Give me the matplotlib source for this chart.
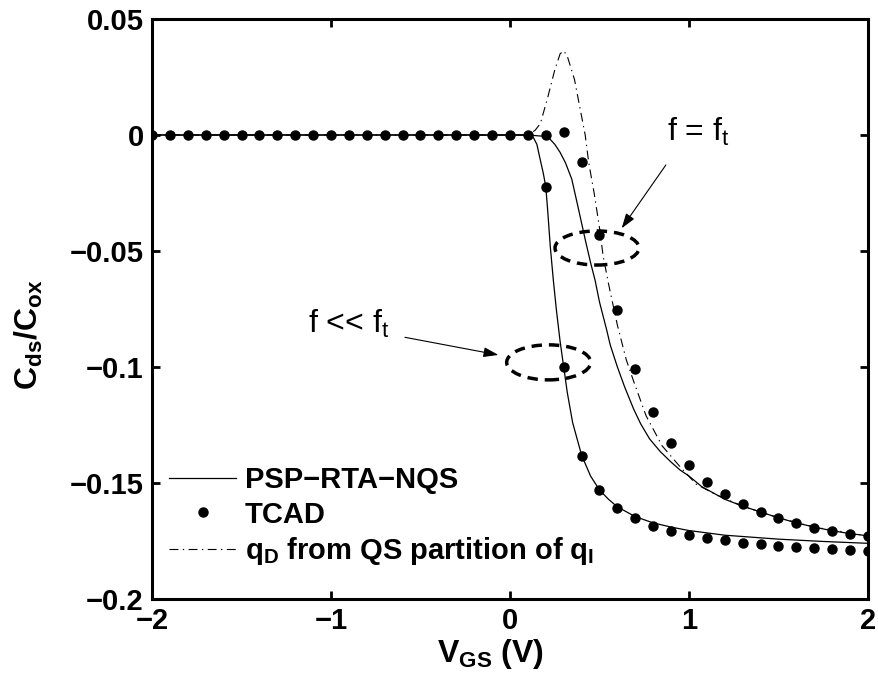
import matplotlib
matplotlib.use('Agg')
import matplotlib.pyplot as plt
from matplotlib.patches import Ellipse
import numpy as np

plt.rcParams['font.family'] = ['Liberation Sans', 'DejaVu Sans']
plt.rcParams['mathtext.fontset'] = 'custom'
plt.rcParams['mathtext.rm'] = 'Liberation Sans'
plt.rcParams['mathtext.bf'] = 'Liberation Sans:bold'
plt.rcParams['mathtext.it'] = 'Liberation Sans:italic'

# TCAD points, f << ft (lower branch) and f = ft (upper branch)
tcad_x = [-2.0, -1.9, -1.8, -1.7, -1.6, -1.5, -1.4, -1.3, -1.2, -1.1, -1.0,
          -0.9, -0.8, -0.7, -0.6, -0.5, -0.4, -0.3, -0.2, -0.1, 0.0, 0.1,
          0.2, 0.3, 0.4, 0.5, 0.6, 0.7, 0.8, 0.9, 1.0, 1.1, 1.2, 1.3, 1.4,
          1.5, 1.6, 1.7, 1.8, 1.9, 2.0]
tcad_low = [0.0] * 22 + [-0.0223, -0.1001, -0.1382, -0.1530, -0.1606, -0.1652,
                         -0.1684, -0.1705, -0.1724, -0.1736, -0.1747, -0.1757,
                         -0.1764, -0.1770, -0.1775, -0.1779, -0.1783, -0.1789,
                         -0.1794]
tcad_hi_x = [0.2, 0.3, 0.4, 0.5, 0.6, 0.7, 0.8, 0.9, 1.0, 1.1, 1.2, 1.3, 1.4,
             1.5, 1.6, 1.7, 1.8, 1.9, 2.0]
tcad_hi = [0.0, 0.0013, -0.0117, -0.0431, -0.0753, -0.1007, -0.1194, -0.1326,
           -0.1422, -0.1494, -0.1549, -0.1591, -0.1624, -0.1650, -0.1674,
           -0.1692, -0.1708, -0.1720, -0.1730]

# PSP-RTA-NQS, f << ft
psp_low_x = [-2.0, 0.10, 0.13, 0.15, 0.17, 0.186, 0.20, 0.21, 0.225, 0.242,
             0.26, 0.28, 0.30, 0.32, 0.35, 0.40, 0.45, 0.50, 0.55, 0.60, 0.70,
             0.80, 0.90, 1.0, 1.2, 1.5, 1.75, 2.0]
psp_low = [0.0, 0.0, -0.001, -0.004, -0.011, -0.0165, -0.0223, -0.032, -0.048,
           -0.0625, -0.076, -0.089, -0.100, -0.111, -0.124, -0.138, -0.147,
           -0.153, -0.157, -0.1603, -0.1645, -0.1672, -0.169, -0.1705, -0.1725,
           -0.1742, -0.1752, -0.1760]

# PSP-RTA-NQS, f = ft
psp_hi_x = [-2.0, 0.10, 0.18, 0.22, 0.25, 0.28, 0.31, 0.345, 0.38, 0.42, 0.45,
            0.475, 0.50, 0.54, 0.56, 0.60, 0.64, 0.69, 0.73, 0.78, 0.84, 0.90,
            0.95, 1.0, 1.07, 1.2, 1.3, 1.4, 1.5, 1.6, 1.7, 1.8, 1.9, 2.0]
psp_hi = [0.0, 0.0, -0.0005, -0.0015, -0.004, -0.0075, -0.012, -0.019, -0.031,
          -0.045, -0.055, -0.0625, -0.072, -0.084, -0.0905, -0.100, -0.1085,
          -0.118, -0.1245, -0.131, -0.1365, -0.141, -0.1444, -0.147, -0.1515,
          -0.157, -0.160, -0.1625, -0.165, -0.1672, -0.169, -0.1706, -0.1718,
          -0.1728]

# qD from QS partition of qI
qs_x = [-2.0, 0.10, 0.14, 0.17, 0.21, 0.25, 0.28, 0.30, 0.32, 0.34, 0.36,
        0.39, 0.42, 0.44, 0.47, 0.50, 0.52, 0.55, 0.60, 0.65, 0.69, 0.76,
        0.85, 0.95, 1.04, 1.15, 1.3, 1.5, 1.7, 2.0]
qs_y = [0.0, 0.0, 0.002, 0.005, 0.016, 0.028, 0.035, 0.0363, 0.034, 0.029,
        0.024, 0.012, 0.0, -0.012, -0.025, -0.040, -0.052, -0.064, -0.082,
        -0.097, -0.106, -0.121, -0.134, -0.143, -0.1505, -0.155, -0.160,
        -0.165, -0.169, -0.1728]

xticks = [-2, -1, 0, 1, 2]
xticklabels = ['\u22122', '\u22121', '0', '1', '2']
yticks = [-0.2, -0.15, -0.1, -0.05, 0, 0.05]
yticklabels = ['\u22120.2', '\u22120.15', '\u22120.1', '\u22120.05', '0', '0.05']

fig = plt.figure(figsize=(8.79, 6.83), dpi=100)
ax = fig.add_axes([152/879, 1-599/683, 716/879, 580/683])

l1, = ax.plot(psp_low_x, psp_low, 'k-', lw=0.9)
ax.plot(psp_hi_x, psp_hi, 'k-', lw=0.9)
l2, = ax.plot(tcad_x, tcad_low, 'k.', ls='none', ms=13)
ax.plot(tcad_hi_x, tcad_hi, 'k.', ls='none', ms=13)
l3, = ax.plot(qs_x, qs_y, color='k', lw=0.8, ls=(0, (8, 4, 1.2, 4)))

ax.set_xlim(-2, 2)
ax.set_ylim(-0.2, 0.05)
ax.set_xticks(xticks)
ax.set_xticklabels(xticklabels)
ax.set_yticks(yticks)
ax.set_yticklabels(yticklabels)
ax.tick_params(direction='in', length=6, width=2, labelsize=21, top=True, right=True, pad=6)
for lab in ax.get_xticklabels() + ax.get_yticklabels():
    lab.set_fontweight('bold')
for sp in ax.spines.values():
    sp.set_linewidth(2.2)

ax.set_xlabel(r'$\mathbf{V_{GS}\ (V)}$', fontsize=23)
ax.set_ylabel(r'$\mathbf{C_{ds}/C_{ox}}$', fontsize=23)
ax.xaxis.set_label_coords(0.473, -0.066)
ax.yaxis.set_label_coords(-0.15, 0.455)

# dashed ellipses
ax.add_patch(Ellipse((0.486, -0.0487), 0.469, 0.0147, fill=False, lw=2.5,
                     ls=(0, (3, 2)), ec='k'))
ax.add_patch(Ellipse((0.216, -0.0980), 0.469, 0.0151, fill=False, lw=2.5,
                     ls=(0, (3, 2)), ec='k'))

# annotations
ax.annotate('', xy=(0.624, -0.0402), xytext=(0.871, -0.0129),
            arrowprops=dict(arrowstyle='-|>,head_length=0.9,head_width=0.3',
                            color='k', lw=0.8, shrinkA=0, shrinkB=0))
ax.text(0.877, -0.0025, r'f = f$_\mathrm{t}$', fontsize=23, ha='left', va='baseline')
ax.annotate('', xy=(-0.065, -0.0948), xytext=(-0.587, -0.0872),
            arrowprops=dict(arrowstyle='-|>,head_length=0.9,head_width=0.3',
                            color='k', lw=0.8, shrinkA=0, shrinkB=0))
ax.text(-1.128, -0.0855, r'f << f$_\mathrm{t}$', fontsize=23, ha='left', va='baseline')

ax.legend([l1, l2, l3],
          ['PSP\u2212RTA\u2212NQS', 'TCAD',
           r'$\mathbf{q_D}$ from QS partition of $\mathbf{q_I}$'],
          loc='lower left', bbox_to_anchor=(0.024, 0.055), frameon=False,
          prop={'weight': 'bold', 'size': 21}, handlelength=2.3,
          handletextpad=0.3, labelspacing=0.22, borderpad=0, borderaxespad=0,
          markerscale=1.0)

fig.savefig('out.png', dpi=100)
